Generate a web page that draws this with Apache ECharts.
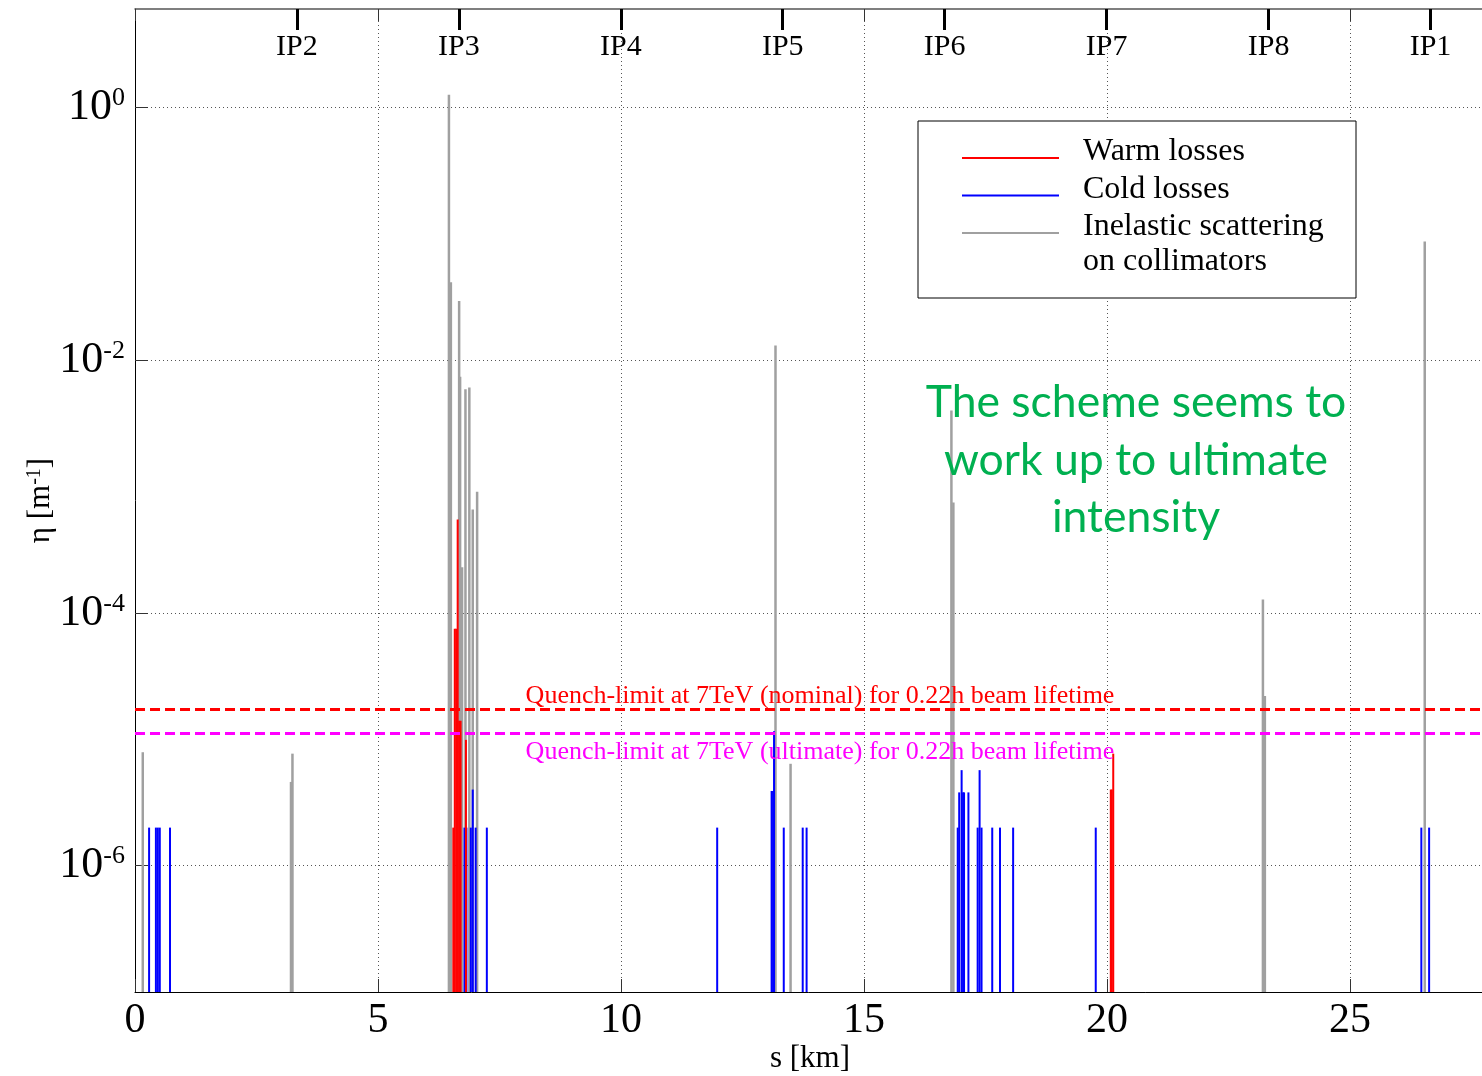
<!DOCTYPE html>
<html><head><meta charset="utf-8">
<script src="https://cdn.jsdelivr.net/npm/echarts@6/dist/echarts.min.js"></script>
<style>html,body{margin:0;padding:0;background:#fff}#c{width:1482px;height:1076px}</style>
</head><body><div id="c"></div>
<script>
// ---- data (s in km, eta in m^-1) ----
const inelS   = [0.16, 3.21, 3.24, 6.46, 6.50, 6.67, 6.69, 6.73, 6.80, 6.88, 6.95, 7.04, 13.18, 13.49, 16.80, 16.84, 23.21, 23.25, 26.54];
const inelEta = [7.9e-6, 4.6e-6, 7.7e-6, 1.26, 4.15e-2, 2.94e-2, 7.4e-3, 2.3e-4, 5.9e-3, 6.1e-3, 6.6e-4, 9.1e-4, 1.31e-2, 6.4e-6, 4.0e-3, 7.5e-4, 1.28e-4, 2.2e-5, 8.7e-2];

const warmS   = [6.55, 6.58, 6.61, 6.64, 6.67, 6.70, 6.81, 20.08, 20.10, 20.13];
const warmEta = [2.0e-6, 7.5e-5, 7.5e-5, 5.5e-4, 1.4e-5, 1.4e-5, 9.9e-6, 4.0e-6, 4.0e-6, 7.7e-6];

const coldS   = [0.29, 0.43, 0.47, 0.51, 0.72,
                 6.78, 6.82, 6.91, 6.95, 7.01, 7.24,
                 11.98, 13.10, 13.13, 13.15, 13.35, 13.74, 13.82,
                 16.93, 16.96, 17.01, 17.04, 17.06, 17.15, 17.34, 17.38, 17.42, 17.64, 17.80, 18.07, 19.77,
                 26.47, 26.63];
const coldEta = [2e-6, 2e-6, 2e-6, 2e-6, 2e-6,
                 2e-6, 2e-6, 2e-6, 4e-6, 2e-6, 2e-6,
                 2e-6, 3.9e-6, 3.9e-6, 1.16e-5, 2e-6, 2e-6, 2e-6,
                 2e-6, 3.8e-6, 5.7e-6, 3.8e-6, 3.8e-6, 3.8e-6, 2e-6, 5.7e-6, 2e-6, 2e-6, 2e-6, 2e-6, 2e-6,
                 2e-6, 2e-6];

const quenchNominal  = 1.72e-5;
const quenchUltimate = 1.13e-5;
const quenchNominalLabel  = 'Quench-limit at 7TeV (nominal) for 0.22h beam lifetime';
const quenchUltimateLabel = 'Quench-limit at 7TeV (ultimate) for 0.22h beam lifetime';

const ipPos   = [3.332, 6.664, 9.997, 13.329, 16.661, 19.993, 23.326, 26.658];
const ipNames = ['IP2', 'IP3', 'IP4', 'IP5', 'IP6', 'IP7', 'IP8', 'IP1'];
const xTicks  = [0, 5, 10, 15, 20, 25];
const yTickExp = [-6, -4, -2, 0];

const seriesNames = ['Warm losses', 'Cold losses', 'Inelastic scattering on collimators'];
const noteText = 'The scheme seems to\nwork up to ultimate\nintensity';

// ---- layout ----
const Y_MIN = -7, Y_MAX = 0.78;
const X_MIN = 0, X_MAX = 27.78;
const SERIF = "'Liberation Serif', 'Times New Roman', serif";
const LEG_FS = 32;
// legend sample line: visible bar sits at the bottom of a 14px-high icon box
const LEG_ICON = 'path://M0,0 L97,0 L97,0.001 Z M0,12 L97,12 L97,14 L0,14 Z';

function stemSeries(name, xs, etas, color, width, z) {
  return {
    type: 'custom', name: name, z: z,
    xAxisIndex: 0, yAxisIndex: 0,
    itemStyle: { color: color },
    data: xs.map((x, i) => [x, Math.log10(etas[i])]),
    encode: { x: 0, y: 1 },
    clip: true,
    renderItem: function (params, api) {
      const x = api.value(0), y = api.value(1);
      const top = api.coord([x, y]);
      const base = api.coord([x, Y_MIN]);
      return { type: 'line', shape: { x1: top[0], y1: base[1], x2: top[0], y2: top[1] },
               style: { stroke: color, lineWidth: width } };
    }
  };
}

// measure legend text width to close the legend box at the right place
const mctx = document.createElement('canvas').getContext('2d');
mctx.font = LEG_FS + "px 'Liberation Serif'";
const legendTextW = mctx.measureText('Inelastic scattering').width;
const padR = Math.max(4, 1356 - 1083 - legendTextW);

const grey = stemSeries(seriesNames[2], inelS, inelEta, '#a0a0a0', 2.5, 2);
const cold = stemSeries(seriesNames[1], coldS, coldEta, '#0000ff', 2, 3);
const warm = stemSeries(seriesNames[0], warmS, warmEta, '#ff0000', 2, 4);
warm.markLine = {
  silent: true, symbol: 'none', animation: false,
  data: [
    { yAxis: Math.log10(quenchNominal),
      lineStyle: { color: '#ff0000', type: [10, 5], width: 3 },
      label: { show: true, position: 'insideMiddleTop', formatter: quenchNominalLabel,
               color: '#ff0000', fontFamily: SERIF, fontSize: 26, distance: 0, padding: [0, 0, 0, 20] } },
    { yAxis: Math.log10(quenchUltimate),
      lineStyle: { color: '#ff00ff', type: [10, 5], width: 3 },
      label: { show: true, position: 'insideMiddleBottom', formatter: quenchUltimateLabel,
               color: '#ff00ff', fontFamily: SERIF, fontSize: 26, distance: 6, padding: [0, 0, 0, 20] } }
  ]
};

const option = {
  animation: false,
  backgroundColor: '#fff',
  grid: { left: 135, top: 9, right: -3, bottom: 84, containLabel: false, outerBoundsMode: 'none' },
  xAxis: [
    { type: 'value', position: 'bottom', min: X_MIN, max: X_MAX, interval: 5,
      axisLine: { show: true, onZero: false, lineStyle: { color: '#000', width: 1 } },
      axisTick: { show: true, inside: true, length: 13, customValues: xTicks, lineStyle: { color: '#333' } },
      axisLabel: { show: true, customValues: xTicks, margin: 8, color: '#000', fontFamily: SERIF, fontSize: 42 },
      splitLine: { show: true, lineStyle: { color: '#555', type: [1, 3], width: 1 } },
      name: 's [km]', nameLocation: 'middle', nameGap: 51, nameMoveOverlap: false,
      nameTextStyle: { color: '#000', fontFamily: SERIF, fontSize: 31 } },
    { type: 'value', position: 'top', min: X_MIN, max: X_MAX, interval: 5,
      axisLine: { show: true, onZero: false, lineStyle: { color: '#555', width: 1.5 } },
      axisTick: { show: true, inside: true, length: 12, customValues: xTicks, lineStyle: { color: '#333' } },
      axisLabel: { show: false }, splitLine: { show: false } },
    { type: 'value', position: 'top', min: X_MIN, max: X_MAX,
      axisLine: { show: false, onZero: false },
      axisTick: { show: true, inside: true, length: 21, customValues: ipPos, lineStyle: { color: '#000', width: 3 } },
      axisLabel: { show: true, inside: true, customValues: ipPos, margin: 23, color: '#000', fontFamily: SERIF, fontSize: 30,
        formatter: function (v) {
          for (let i = 0; i < ipPos.length; i++) if (Math.abs(ipPos[i] - v) < 0.01) return ipNames[i];
          return '';
        } },
      splitLine: { show: false } }
  ],
  yAxis: {
    type: 'value', min: Y_MIN, max: Y_MAX,
    axisLine: { show: true, onZero: false, lineStyle: { color: '#000', width: 1 } },
    axisTick: { show: true, inside: true, length: 13, customValues: yTickExp, lineStyle: { color: '#333' } },
    axisLabel: { show: true, customValues: yTickExp, margin: 10,
      formatter: function (v) { return '{b|10}{s|' + v + '}'; },
      rich: {
        b: { fontFamily: SERIF, fontSize: 44, lineHeight: 44, color: '#000', verticalAlign: 'middle' },
        s: { fontFamily: SERIF, fontSize: 26, lineHeight: 26, color: '#000', verticalAlign: 'top', padding: [0, 0, 34, 0] }
      } },
    splitLine: { show: true, lineStyle: { color: '#555', type: [1, 3], width: 1 } },
    name: '{a|η [m}{s|-1}{a|]}', nameLocation: 'middle', nameGap: 78, nameRotate: 90, nameMoveOverlap: false,
    nameTextStyle: { rich: {
      a: { fontFamily: SERIF, fontSize: 31, lineHeight: 32, color: '#000', verticalAlign: 'middle' },
      s: { fontFamily: SERIF, fontSize: 20, lineHeight: 20, color: '#000', verticalAlign: 'top', padding: [0, 0, 24, 0] }
    } }
  },
  legend: {
    orient: 'vertical', left: 918, top: 121,
    padding: [15, padR, 55, 44],
    itemGap: 5.5, itemWidth: 97, itemHeight: 14, icon: LEG_ICON,
    backgroundColor: '#fff', borderColor: '#000', borderWidth: 1, borderRadius: 0,
    selectedMode: false,
    itemStyle: { borderWidth: 0 },
    textStyle: { fontFamily: SERIF, fontSize: LEG_FS, lineHeight: 30, color: '#000', padding: [0, 0, 0, 19] },
    data: seriesNames,
    formatter: function (n) { return n === seriesNames[2] ? 'Inelastic scattering' : n; }
  },
  graphic: [
    { type: 'text', left: 1083, top: 261 - 15, z: 100,
      style: { text: 'on collimators', font: LEG_FS + "px 'Liberation Serif'", fill: '#000', lineHeight: 30 } },
    { type: 'text', x: 1136, y: 374, z: 100,
      style: { text: noteText, font: "44.5px Lato", fill: '#00b050', align: 'center', verticalAlign: 'top', lineHeight: 57.5 } }
  ],
  series: [grey, cold, warm]
};

const chart = echarts.init(document.getElementById('c'), null, { renderer: 'canvas' });
chart.setOption(option);
</script>
</body></html>
